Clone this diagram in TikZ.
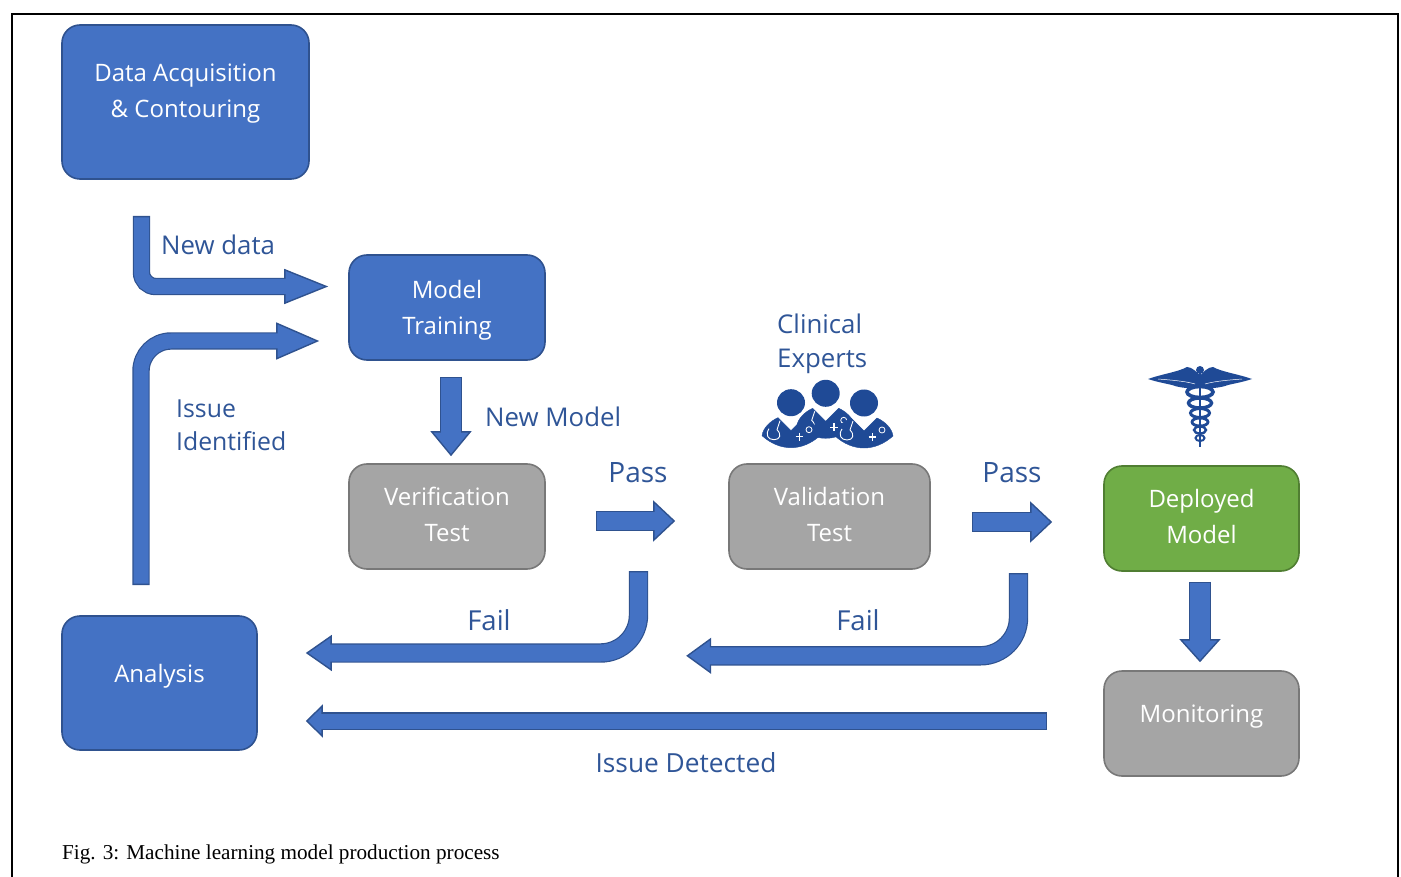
\documentclass[tikz,border=0pt]{standalone}
\usepackage{fontspec}
\setmainfont{Open Sans}
\newfontfamily\captionfont{Liberation Serif}
\usetikzlibrary{arrows.meta}
\definecolor{flowfill}{HTML}{4472C4}
\definecolor{flowedge}{HTML}{2F528F}
\definecolor{greyfill}{HTML}{A5A5A5}
\definecolor{greyedge}{HTML}{787878}
\definecolor{greenfill}{HTML}{70AD47}
\definecolor{greenedge}{HTML}{507E32}
\definecolor{labelblue}{HTML}{2F5597}
\definecolor{iconblue}{HTML}{1F4A96}
\tikzset{
	stagebox/.style={rounded corners=18pt, line width=1.6pt, align=center, text=white, inner sep=0pt, font=\fontsize{24}{36}\selectfont},
	bluebox/.style={stagebox, fill=flowfill, draw=flowedge},
	greybox/.style={stagebox, fill=greyfill, draw=greyedge},
	greenbox/.style={stagebox, fill=greenfill, draw=greenedge},
	flowlabel/.style={text=labelblue, align=left, inner sep=0pt, font=\fontsize{25.8}{34}\selectfont},
	flow/.style n args={3}{draw=flowfill, line width=#1, shorten <=1.3pt, shorten >=#3-3pt,
		preaction={draw=flowedge, line width=#1+2.4pt, shorten <=0pt, shorten >=0pt,
			-{Triangle[length=#3, width=#2, line width=1.4pt, fill=flowfill, color=flowedge]}}},
}
\begin{document}
\begin{tikzpicture}[x=1pt, y=-1pt]
\useasboundingbox (0,0) rectangle (1401,877);
% Rahmen
\draw[line width=1.8pt] (12,877) -- (12,14) -- (1398,14) -- (1398,877);

% Stages
\node[bluebox, minimum width=247pt, minimum height=154pt, text depth=22pt] (data) at (185.5,102) {Data Acquisition\\\& Contouring};
\node[bluebox, minimum width=196pt, minimum height=105pt, text depth=1pt] (train) at (447,307.5) {Model\\Training};
\node[greybox, minimum width=196pt, minimum height=105pt, text depth=4pt] (verif) at (447,516.5) {Verification\\Test};
\node[greybox, minimum width=201pt, minimum height=105pt, text depth=4pt] (valid) at (829.5,516.5) {Validation\\Test};
\node[greenbox, minimum width=195pt, minimum height=105pt, text depth=4pt] (deployed) at (1201.5,518.5) {Deployed\\Model};
\node[bluebox, minimum width=195pt, minimum height=134pt, text depth=20pt] (analysis) at (159.5,683) {Analysis};
\node[greybox, minimum width=195pt, minimum height=105pt, text depth=20pt] (monitor) at (1201.5,723.5) {Monitoring};

% free ends of the arrows
\coordinate (newdata) at (141.5,216);
\coordinate (issuefrom) at (141,585);
\coordinate (failone) at (638.5,571);
\coordinate (failtwo) at (1018.5,573);

% Arrows
\draw[flow={15pt}{35pt}{44pt}, rounded corners=14pt] (newdata) |- ([shift={(-20,-21)}]train.west);
\draw[flow={15pt}{37pt}{43pt}, rounded corners=30pt] (issuefrom) |- ([shift={(-29,33.5)}]train.west);
\draw[flow={19.5pt}{41pt}{25pt}] ([shift={(4,16)}]train.south) -- ([shift={(4,-7)}]verif.north);
\draw[flow={18.5pt}{41pt}{22pt}] ([shift={(50,4.5)}]verif.east) -- ([shift={(-53,4.5)}]valid.west);
\draw[flow={18.5pt}{41pt}{22pt}] ([shift={(41,5.5)}]valid.east) -- ([shift={(-51,3.5)}]deployed.west);
\draw[flow={19.5pt}{41pt}{23pt}] ([shift={(-1.5,10)}]deployed.south) -- ([shift={(-1.5,-8)}]monitor.north);
\draw[flow={17pt}{36pt}{26pt}, rounded corners=38pt] (failone) |- ([shift={(48,-30)}]analysis.east);
\draw[flow={17pt}{36pt}{25pt}, rounded corners=38pt] (failtwo) |- ([shift={(-42,86)}]verif.south -| valid.west);
\draw[flow={15pt}{33pt}{17pt}] ([shift={(-56,-2.5)}]monitor.west) -- ([shift={(48,38)}]analysis.east);

% Labels
\node[flowlabel, anchor=west] (newdatalabel) at (161,245) {New data};
\node[flowlabel, anchor=west] (newmodel) at (485,417) {New Model};
\node[flowlabel, anchor=west, font=\fontsize{24.8}{33}\selectfont] (issueid) at (176,425) {Issue\\Identified};
\node[flowlabel, font=\fontsize{28}{33}\selectfont] (passone) at (638,473) {Pass};
\node[flowlabel, font=\fontsize{28}{33}\selectfont] (passtwo) at (1012,473) {Pass};
\node[flowlabel, font=\fontsize{27.5}{33}\selectfont] (faillabel) at (489,620) {Fail};
\node[flowlabel, font=\fontsize{27.5}{33}\selectfont] (faillabeltwo) at (858,620) {Fail};
\node[flowlabel, anchor=west] (experts) at (777,344) {Clinical\\Experts};
\node[flowlabel, font=\fontsize{26.3}{34}\selectfont] (issuedet) at (686,763) {Issue Detected};
\node[anchor=west, inner sep=0pt, font=\captionfont\fontsize{21.2}{24}\selectfont] (caption) at (62,854) {Fig. 3: Machine learning model production process};

% Clinical experts
\foreach \hx/\hy in {825.7/393.3, 791/402.7, 864/403} {
\begin{scope}[shift={(\hx,\hy)}]
	\fill[iconblue] (0,0) ellipse (14pt and 13.5pt);
	\draw[iconblue, fill=iconblue] (-13,15) .. controls (-20,18) and (-28,25) .. (-29,33)
		.. controls (-20,41) and (-10,45) .. (0,45) .. controls (10,45) and (20,41) .. (29,33)
		.. controls (28,25) and (20,18) .. (13,15) -- (0,28) -- cycle;
	\draw[white, line width=0.9pt] (-11,18) -- (-14,27) .. controls (-9,32) and (-11,37) .. (-17,37)
		.. controls (-23,37) and (-26,32) .. (-22,26);
	\draw[white, line width=1.4pt] (4.5,34) -- (12,34) (8.2,30) -- (8.2,38);
	\draw[white, line width=0.8pt] (18,27) circle (3pt);
\end{scope}
}

% Caduceus
\draw[iconblue, line width=1.5pt] (1200,372) -- (1200,447);
\fill[iconblue] (1200,370) circle (4pt);
\foreach \sgn in {-1,1} {
\begin{scope}[shift={(1200,0)}, xscale=\sgn]
	\fill[iconblue] (3,379) .. controls (-3,372) and (-8,367) .. (-13,367)
		.. controls (-22,372) and (-38,374) .. (-52,379)
		.. controls (-40,383) and (-30,384) .. (-25,386)
		.. controls (-18,388) and (-8,389) .. (-2,387) -- cycle;
	\draw[white, line width=0.5pt] (-42,379) .. controls (-30,380) and (-15,381) .. (-5,384);
\end{scope}
}
\foreach \ry/\rx/\rh/\rw in {392/13/5.5/3.6, 403/11.5/5/3.4, 413/9.5/4.5/3, 422/8/4/2.8, 430/6/3.5/2.4, 438/4.5/3/2} {
	\draw[iconblue, line width=\rw pt] (1200,\ry) ellipse ({\rx pt} and {\rh pt});
}
\end{tikzpicture}
\end{document}
